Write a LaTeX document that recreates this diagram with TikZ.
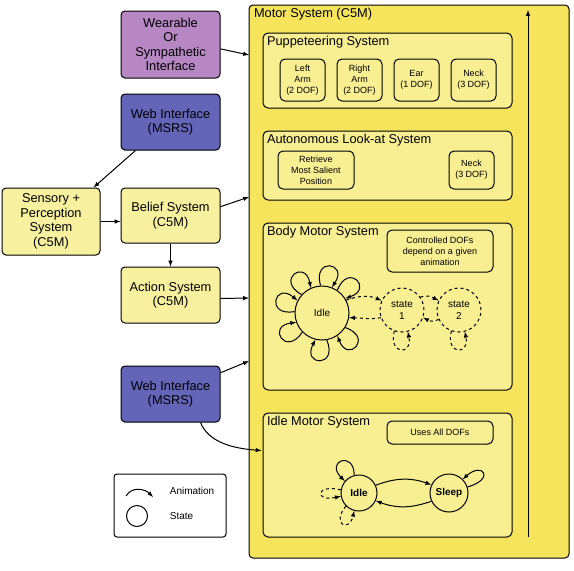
\documentclass[tikz,border=0pt]{standalone}
\usepackage{fontspec}
\setmainfont{Liberation Sans}
\usetikzlibrary{shapes,positioning,calc}
\definecolor{boxyellow}{HTML}{F7F09E}
\definecolor{motoryellow}{HTML}{F5E45C}
\definecolor{subyellow}{HTML}{F8EF93}
\definecolor{wearpurple}{HTML}{B687C3}
\definecolor{webblue}{HTML}{6464B8}
\newcommand{\modfont}{\fontsize{12.8}{14.5}\selectfont}
\newcommand{\dicefont}{\fontsize{9}{11}\selectfont}
\newcommand{\legfont}{\fontsize{10}{12}\selectfont}

\begin{document}
\begin{tikzpicture}[
      x=1pt, y=1pt, >=latex, line width=1pt,
      module/.style={draw,rounded corners=4pt,align=center,inner sep=1pt,font=\modfont,
        fill=boxyellow,minimum width=99pt},
      subsys/.style={draw,rounded corners=5pt,fill=subyellow,minimum width=249pt},
      systitle/.style={anchor=north west,inner sep=3pt,xshift=1pt,font=\modfont},
      dofbox/.style={draw,rounded corners=5pt,align=center,inner sep=1pt,font=\dicefont},
      statenode/.style={draw,circle,inner sep=0pt,align=center,font=\legfont},
      transient/.style={draw,dashed,->}
      ]

      \path[use as bounding box] (0,0) rectangle (574,-571);

      % motor system and its sub-systems
      \path node[draw,rounded corners=4pt,fill=motoryellow,minimum width=320pt,
        minimum height=553pt] (motor) at (409,-281.5) {};
      \path node[systitle,xshift=1pt] (motor-title) at (motor.north west) {Motor System (C5M)};
      \coordinate (rise-bot) at (528,-537);
      \coordinate (rise-top) at (528,-10);
      \path[draw,->] (rise-bot) -- (rise-top);

      \path node[subsys,minimum height=75pt] (pup) at (387.5,-70.5) {};
      \path node[systitle] (pup-title) at (pup.north west) {Puppeteering System};
      \path node[dofbox,minimum width=45pt,minimum height=42pt] (leftarm) at (302.5,-80) {Left\\Arm\\(2 DOF)};
      \path node[dofbox,minimum width=45pt,minimum height=42pt,right=11pt of leftarm] (rightarm) {Right\\Arm\\(2 DOF)};
      \path node[dofbox,minimum width=45pt,minimum height=42pt,right=11pt of rightarm] (ear) {Ear\\(1 DOF)};
      \path node[dofbox,minimum width=45pt,minimum height=42pt,right=11pt of ear] (pup-neck) {Neck\\(3 DOF)};

      \path node[subsys,minimum height=69pt] (lookat) at (387.5,-165.5) {};
      \path node[systitle] (lookat-title) at (lookat.north west) {Autonomous Look-at System};
      \path node[dofbox,minimum width=76pt,minimum height=38pt] (retrieve) at (316,-170) {Retrieve\\Most Salient\\Position};
      \path node[dofbox,minimum width=45pt,minimum height=38pt] (look-neck) at (471.5,-170) {Neck\\(3 DOF)};

      \path node[subsys,minimum height=167pt] (body) at (387.5,-306.5) {};
      \path node[systitle] (body-title) at (body.north west) {Body Motor System};
      \path node[dofbox,minimum width=106pt,minimum height=42pt] (controlled) at (440,-251) {Controlled DOFs\\depend on a given\\animation};
      \path node[statenode,minimum size=54pt] (bidle) at (322,-313) {Idle};
      \path node[statenode,dashed,minimum size=44pt] (state1) at (402,-310) {state\\1};
      \path node[statenode,dashed,minimum size=44pt] (state2) at (459,-310) {state\\2};
      \foreach \a [evaluate=\a as \s using \a+12, evaluate=\a as \e using \a-12]
          in {165,126,81,44,212,268,316}
        \path[draw,->] (bidle.\s) .. controls +(\a+25:30) and +(\a-25:30) .. (bidle.\e);
      \path[transient] (bidle.28) .. controls +(14,5) and +(-12,5) .. (state1.155);
      \path[transient] (state1.200) .. controls +(-10,-2) and +(12,0) .. (bidle.-10);
      \path[transient] (state1.35) .. controls +(6,3) and +(-6,3) .. (state2.155);
      \path[transient] (state2.205) .. controls +(-6,-3) and +(6,-3) .. (state1.-20);
      \path[transient] (state1.250) .. controls +(-6,-24) and +(5,-24) .. (state1.285);
      \path[transient] (state2.250) .. controls +(-6,-24) and +(5,-24) .. (state2.285);

      \path node[subsys,minimum height=124pt] (idlemotor) at (387.5,-475) {};
      \path node[systitle] (idlemotor-title) at (idlemotor.north west) {Idle Motor System};
      \path node[dofbox,minimum width=106pt,minimum height=23pt] (alldofs) at (440,-432.5) {Uses All DOFs};
      \path node[statenode,minimum size=36pt,font=\legfont\bfseries] (iidle) at (359,-493) {Idle};
      \path node[statenode,minimum size=38pt,font=\legfont\bfseries] (sleep) at (449,-493) {Sleep};
      \path[draw,->] (iidle.105) .. controls +(0,25) and +(-20,20) .. (iidle.140);
      \path[transient] (iidle.170) .. controls +(-26,6) and +(-26,-6) .. (iidle.190);
      \path[transient] (iidle.225) .. controls +(-15,-18) and +(-5,-22) .. (iidle.255);
      \path[draw,->] (iidle.25) to[bend left=20] (sleep.155);
      \path[draw,->] (sleep.-155) to[bend left=20] (iidle.-25);
      \path[draw,->] (sleep.18) .. controls +(28,8) and +(20,18) .. (sleep.45);

      % modules outside the motor system
      \path node[module,fill=wearpurple,minimum height=67pt] (wearable) at (170.5,-44.5)
        {Wearable\\Or\\Sympathetic\\Interface};
      \path node[module,fill=webblue,minimum height=56pt] (webtop) at (170.5,-122) {Web Interface\\(MSRS)};
      \path node[module,minimum width=98pt,minimum height=67pt] (sensory) at (51,-221.5)
        {Sensory +\\Perception\\System\\(C5M)};
      \path node[module,minimum height=55pt] (belief) at (170.5,-215.5) {Belief System\\(C5M)};
      \path node[module,minimum height=56pt,below=23pt of belief] (action) {Action System\\(C5M)};
      \path node[module,fill=webblue,minimum height=56pt] (webbot) at (170.5,-394) {Web Interface\\(MSRS)};

      \coordinate (in-wear) at (249,-55);
      \coordinate (in-belief) at (249,-197);
      \coordinate (in-action) at (249,-298);
      \coordinate (in-web) at (249,-361);
      \path[draw,->] (wearable.-5) -- (in-wear);
      \path[draw,->] ($(webtop.south west)+(15,0)$) -- ($(sensory.north east)+(-7,0)$);
      \path[draw,->] (sensory.east) -- (sensory.east -| belief.west);
      \path[draw,->] (belief.10) -- (in-belief);
      \path[draw,->] (belief) -- (action);
      \path[draw,->] (action.-4) -- (in-action);
      \path[draw,->] (webbot.23) -- (in-web);
      \path[draw,->] ($(webbot.south)+(30,0)$) .. controls +(8,-20) and +(-28,2) .. ($(idlemotor.north west)+(-1,-38)$);

      % legend
      \path node[draw,rounded corners=3pt,fill=white,minimum width=112pt,minimum height=63pt] (legend) at (170,-505.5) {};
      \coordinate (anim-a) at (126,-496);
      \coordinate (anim-b) at (153,-497);
      \path[draw,->] (anim-a) .. controls +(6,10) and +(-8,8) .. (anim-b);
      \path node[anchor=west,font=\legfont] (anim-label) at (166,-491) {Animation};
      \path node[draw,circle,minimum size=21pt,inner sep=0pt] (state-sym) at (137,-516) {};
      \path node[anchor=west,font=\legfont] (state-label) at (166,-516) {State};
\end{tikzpicture}
\end{document}
